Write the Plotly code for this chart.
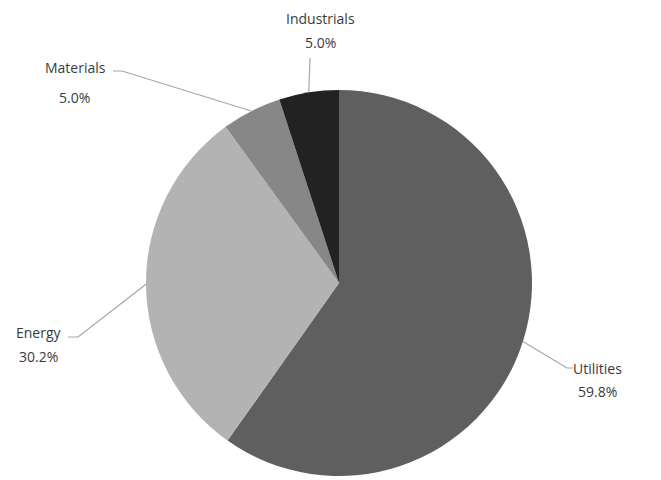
import math
import plotly.graph_objects as go

# Sector weights
sectors = ["Utilities", "Energy", "Materials", "Industrials"]
weights = [59.8, 30.2, 5.0, 5.0]
colors = ["#5f5f5f", "#b3b3b3", "#878787", "#222222"]

W, H = 661, 480
CX, CY, R = 339, 283, 193  # pie centre / radius in pixels

def px(x):
    return x / W

def py(y):
    return 1 - y / H

# label placement (pixels): name line, percent line, elbow of leader
label_pos = {
    "Utilities":   dict(name=(597, 368), pct=(597, 391), elbow=[(567, 368), (573, 368)]),
    "Energy":      dict(name=(39, 332),  pct=(38, 356),  elbow=[(78, 337), (68, 337)]),
    "Materials":   dict(name=(75, 68),   pct=(74, 97),   elbow=[(122, 71), (113, 71)]),
    "Industrials": dict(name=(320, 19),  pct=(320, 42),  elbow=[(310, 58)]),
}

fig = go.Figure(go.Pie(
    labels=sectors,
    values=weights,
    sort=False,
    direction="clockwise",
    rotation=0,
    marker=dict(colors=colors, line=dict(width=0)),
    textinfo="none",
    hoverinfo="label+percent",
    showlegend=False,
    domain=dict(x=[px(CX - R), px(CX + R)], y=[py(CY + R), py(CY - R)]),
))

text_color = "#3a3a3a"
font = dict(family="Open Sans, sans-serif", size=14, color=text_color)
total = sum(weights)
cum = 0.0
annotations = []
shapes = []
for name, v in zip(sectors, weights):
    mid = (cum + v / 2) / total * 2 * math.pi
    cum += v
    sx = CX + R * math.sin(mid)
    sy = CY - R * math.cos(mid)
    pos = label_pos[name]
    pts = [(sx, sy)] + pos["elbow"]
    path = "M " + " L ".join(f"{px(x):.5f},{py(y):.5f}" for x, y in pts)
    shapes.append(dict(type="path", xref="paper", yref="paper", path=path,
                       line=dict(color="#a6a6a6", width=1.2)))
    nx, ny = pos["name"]
    annotations.append(dict(x=px(nx), y=py(ny), xref="paper", yref="paper",
                            text=name, showarrow=False, font=font,
                            xanchor="center", yanchor="middle"))
    qx, qy = pos["pct"]
    annotations.append(dict(x=px(qx), y=py(qy), xref="paper", yref="paper",
                            text=f"{v:.1f}%", showarrow=False, font=font,
                            xanchor="center", yanchor="middle"))

fig.update_layout(
    width=W, height=H,
    margin=dict(l=0, r=0, t=0, b=0),
    paper_bgcolor="white",
    plot_bgcolor="white",
    annotations=annotations,
    shapes=shapes,
)

fig.write_html("out.html")
